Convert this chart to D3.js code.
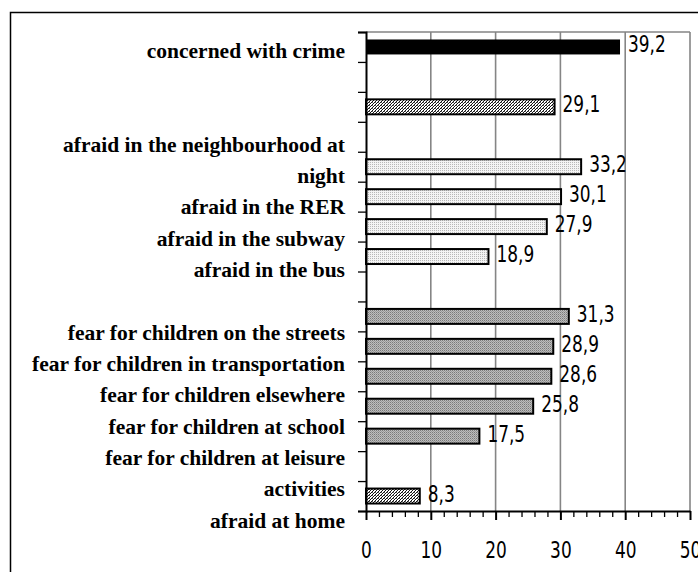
<!DOCTYPE html>
<html>
<head>
<meta charset="utf-8">
<script src="https://cdn.jsdelivr.net/npm/d3@7"></script>
<style>
  html, body { margin: 0; padding: 0; background: #fff; }
  svg { display: block; }
</style>
</head>
<body>
<script>
// ---- data ----
const slots = ["crime", "gap1", "unlabelled", "gap2", "neighbourhood", "RER", "subway", "bus",
               "gap3", "streets", "transportation", "elsewhere", "school", "leisure", "gap4", "home"];
const values = [39.2, null, 29.1, null, 33.2, 30.1, 27.9, 18.9,
                null, 31.3, 28.9, 28.6, 25.8, 17.5, null, 8.3];
const groups = ["A", null, "B", null, "C", "C", "C", "C",
                null, "D", "D", "D", "D", "D", null, "B"];
const labelLines = ["concerned with crime", "", "", "afraid in the neighbourhood at", "night",
                    "afraid in the RER", "afraid in the subway", "afraid in the bus", "",
                    "fear for children on the streets", "fear for children in transportation",
                    "fear for children elsewhere", "fear for children at school",
                    "fear for children at leisure", "activities", "afraid at home"];
const xTicks = [0, 10, 20, 30, 40, 50];
const xMinorTicks = [2, 4, 6, 8, 12, 14, 16, 18, 22, 24, 26, 28, 32, 34, 36, 38, 42, 44, 46, 48];

// ---- layout ----
const W = 698, H = 572;
const plot = { left: 366, right: 690, top: 32, bottom: 511 };
const numFont = "'DejaVu Sans Condensed', 'Liberation Sans Narrow', sans-serif";
const numScale = 0.82;

const svg = d3.select("body").append("svg").attr("width", W).attr("height", H);
const defs = svg.append("defs");

// patterns
const pHatch = defs.append("pattern").attr("id", "hatch").attr("patternUnits", "userSpaceOnUse")
  .attr("width", 3).attr("height", 3);
pHatch.append("rect").attr("width", 3).attr("height", 3).attr("fill", "#fff");
pHatch.append("rect").attr("x", 0).attr("y", 2).attr("width", 1).attr("height", 1).attr("fill", "#111");
pHatch.append("rect").attr("x", 1).attr("y", 1).attr("width", 1).attr("height", 1).attr("fill", "#111");
pHatch.append("rect").attr("x", 2).attr("y", 0).attr("width", 1).attr("height", 1).attr("fill", "#111");
pHatch.append("rect").attr("x", 0).attr("y", 0).attr("width", 1).attr("height", 1).attr("fill", "#666");

const pLight = defs.append("pattern").attr("id", "light").attr("patternUnits", "userSpaceOnUse")
  .attr("width", 2).attr("height", 2);
pLight.append("rect").attr("width", 2).attr("height", 2).attr("fill", "#f4f4f4");
pLight.append("rect").attr("width", 1).attr("height", 1).attr("fill", "#b8b8b8");

const pMid = defs.append("pattern").attr("id", "mid").attr("patternUnits", "userSpaceOnUse")
  .attr("width", 2).attr("height", 2);
pMid.append("rect").attr("width", 2).attr("height", 2).attr("fill", "#bdbdbd");
pMid.append("rect").attr("width", 1).attr("height", 1).attr("fill", "#7a7a7a");
pMid.append("rect").attr("x", 1).attr("y", 1).attr("width", 1).attr("height", 1).attr("fill", "#9a9a9a");

const groupFill = { A: "#000", B: "url(#hatch)", C: "url(#light)", D: "url(#mid)" };

// outer border
svg.append("rect").attr("x", 10.5).attr("y", 12.5).attr("width", 900).attr("height", 700)
  .attr("fill", "none").attr("stroke", "#000").attr("stroke-width", 1.5);

// scales
const x = d3.scaleLinear().domain([0, 50]).range([plot.left, plot.right]);
const y = d3.scaleBand().domain(slots).range([plot.top, plot.bottom]).paddingInner(0.5).paddingOuter(0.25);
const yEdge = d3.scaleLinear().domain([0, slots.length]).range([plot.top, plot.bottom]);
const yLab = d3.scalePoint().domain(d3.range(labelLines.length)).range([57.5, 527.5]);

// gridlines
svg.append("g").selectAll("line").data(xTicks.filter(d => d > 0)).join("line")
  .attr("x1", d => x(d)).attr("x2", d => x(d))
  .attr("y1", plot.top).attr("y2", plot.bottom)
  .attr("stroke", "#858585").attr("stroke-width", 1.6);
svg.append("line").attr("x1", plot.left).attr("x2", plot.right)
  .attr("y1", plot.top).attr("y2", plot.top)
  .attr("stroke", "#858585").attr("stroke-width", 1.6);

// bars
const rows = slots.map((s, i) => ({ slot: s, value: values[i], group: groups[i] }))
  .filter(d => d.value != null);

svg.append("g").selectAll("rect").data(rows).join("rect")
  .attr("x", x(0))
  .attr("y", d => y(d.slot))
  .attr("width", d => x(d.value) - x(0))
  .attr("height", y.bandwidth())
  .attr("fill", d => groupFill[d.group])
  .attr("stroke", "#000")
  .attr("stroke-width", d => d.group === "A" ? 0 : 2);

// value labels
const fmt = v => d3.format(".1f")(v).replace(".", ",");
svg.append("g").selectAll("text").data(rows).join("text")
  .attr("transform", d => `translate(${x(d.value) + 8},${y(d.slot) + y.bandwidth() / 2 + 5.5}) scale(${numScale},1)`)
  .attr("font-family", numFont)
  .attr("font-size", 23)
  .attr("fill", "#000")
  .text(d => fmt(d.value));

// y axis
const yAxis = svg.append("g").attr("transform", `translate(${plot.left},0)`)
  .call(d3.axisLeft(yEdge).tickValues(d3.range(slots.length + 1)).tickSize(8).tickFormat(""));
yAxis.select(".domain").attr("stroke", "#000").attr("stroke-width", 2);
yAxis.selectAll(".tick line").attr("stroke", "#000").attr("stroke-width", 1.3);

// x axis minor
const xMinor = svg.append("g").attr("transform", `translate(0,${plot.bottom})`)
  .call(d3.axisBottom(x).tickValues(xMinorTicks).tickSize(6).tickFormat(""));
xMinor.select(".domain").remove();
xMinor.selectAll(".tick line").attr("stroke", "#000").attr("stroke-width", 1.3);

// x axis major
const xAxis = svg.append("g").attr("transform", `translate(0,${plot.bottom})`)
  .call(d3.axisBottom(x).tickValues(xTicks).tickSize(9).tickSizeOuter(0)
    .tickFormat(d => String(d)));
xAxis.select(".domain").attr("stroke", "#000").attr("stroke-width", 2);
xAxis.selectAll(".tick line").attr("stroke", "#000").attr("stroke-width", 2);
xAxis.selectAll(".tick text")
  .attr("y", null).attr("dy", null)
  .attr("transform", `translate(0,47) scale(${numScale},1)`)
  .attr("font-family", numFont)
  .attr("font-size", 23).attr("fill", "#000");

// category labels
svg.append("g").selectAll("text").data(labelLines.map((t, i) => ({ t, i })).filter(d => d.t))
  .join("text")
  .attr("x", 345)
  .attr("y", d => yLab(d.i))
  .attr("text-anchor", "end")
  .attr("font-family", "'Liberation Serif', 'Times New Roman', serif")
  .attr("font-weight", "bold")
  .attr("font-size", 21.5)
  .attr("fill", "#000")
  .text(d => d.t);
</script>
</body>
</html>
